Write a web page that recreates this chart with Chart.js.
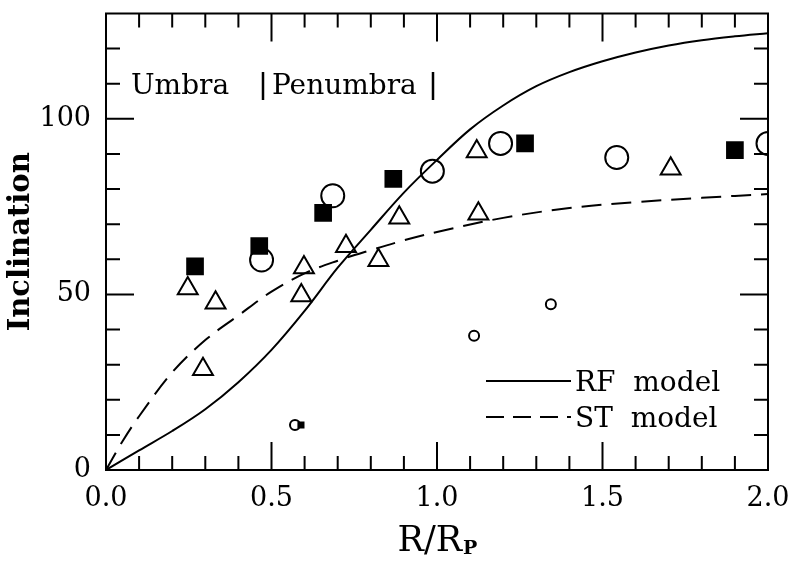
<!DOCTYPE html>
<html>
<head>
<meta charset="utf-8">
<script src="https://cdn.jsdelivr.net/npm/chart.js@4/dist/chart.umd.min.js"></script>
<style>
  html,body{margin:0;padding:0;background:#fff;}
  #wrap{width:789px;height:563px;}
</style>
</head>
<body>
<div id="wrap"><canvas id="incl"></canvas></div>
<script>
// model curves
var rfX=[0,0.1,0.2,0.3,0.4,0.5,0.6,0.7,0.8,0.9,1.0,1.1,1.2,1.3,1.4,1.5,1.6,1.7,1.8,1.9,2.0];
var rfY=[0,5.6,11.1,17.3,25.0,34.2,45.3,57.6,68.4,79.0,88.3,97.0,103.8,109.3,113.3,116.4,118.9,120.9,122.4,123.5,124.4];
var stX=[0,0.05,0.1,0.2,0.3,0.4,0.5,0.6,0.7,0.8,0.9,1.0,1.2,1.4,1.6,1.8,2.0];
var stY=[0,8.2,15.3,27.8,37,44,50.8,56,59.6,62.6,65.4,67.8,71.8,74.6,76.3,77.5,78.6];

// observations
var sqX=[0.269,0.463,0.656,0.868,1.266,1.900];
var sqY=[58.0,63.8,73.2,82.9,93.0,91.1];
var circX=[0.470,0.685,0.986,1.192,1.543,2.0];
var circY=[59.8,78.1,85.1,93.0,89.0,93.0];
var triX=[0.247,0.331,0.293,0.598,0.590,0.725,0.823,0.886,1.125,1.12,1.706];
var triY=[51.7,47.6,28.7,57.7,49.7,63.7,59.7,71.8,73.0,90.7,85.8];
var smCircX=[0.571,1.112,1.344];
var smCircY=[12.8,38.2,47.2];
var smSqX=[0.589];
var smSqY=[12.8];

var xTicks=[0,0.5,1.0,1.5,2.0];
var yTicks=[0,50,100];

function pts(xs,ys){return xs.map(function(x,i){return {x:x,y:ys[i]};});}

var serif="'DejaVu Serif', serif";

// frame + inward ticks, legend, annotations
var decor={
  id:'decor',
  afterDraw:function(chart){
    var ctx=chart.ctx, a=chart.chartArea;
    var xs=chart.scales.x, ys=chart.scales.y;
    ctx.save();
    ctx.strokeStyle='#000';
    ctx.lineWidth=2;
    ctx.strokeRect(a.left,a.top,a.right-a.left,a.bottom-a.top);
    ctx.beginPath();
    for(var i=1;i<20;i++){
      var px=xs.getPixelForValue(i/10);
      var len=(i%5==0)?28:14;
      ctx.moveTo(px,a.bottom);ctx.lineTo(px,a.bottom-len);
      ctx.moveTo(px,a.top);ctx.lineTo(px,a.top+len);
    }
    for(var j=1;j<=12;j++){
      var py=ys.getPixelForValue(j*10);
      var l2=(j%5==0)?28:14;
      ctx.moveTo(a.left,py);ctx.lineTo(a.left+l2,py);
      ctx.moveTo(a.right,py);ctx.lineTo(a.right-l2,py);
    }
    ctx.stroke();

    // legend
    ctx.fillStyle='#000';
    ctx.font='28px '+serif;
    ctx.textBaseline='alphabetic';
    ctx.textAlign='left';
    ctx.beginPath();
    ctx.moveTo(486,381);ctx.lineTo(571,381);
    ctx.stroke();
    ctx.setLineDash([18,9]);
    ctx.beginPath();
    ctx.moveTo(486,417);ctx.lineTo(571,417);
    ctx.stroke();
    ctx.setLineDash([]);
    ctx.fillText('RF  model',575,391);
    ctx.fillText('ST  model',575,427);

    // umbra / penumbra
    ctx.fillText('Umbra',131,94);
    ctx.fillText('Penumbra',272,94);
    ctx.lineWidth=2.5;
    ctx.beginPath();
    ctx.moveTo(263,72);ctx.lineTo(263,100);
    ctx.moveTo(433,72);ctx.lineTo(433,100);
    ctx.stroke();

    // x title R/Rp
    ctx.font='35px '+serif;
    var w1=ctx.measureText('R/R').width;
    ctx.font='bold 19px '+serif;
    var w2=ctx.measureText('P').width;
    var x0=(a.left+a.right)/2-(w1+w2)/2;
    ctx.font='35px '+serif;
    ctx.fillText('R/R',x0,551);
    ctx.font='bold 19px '+serif;
    ctx.fillText('P',x0+w1+1,554);
    ctx.restore();
  }
};

var chart=new Chart(document.getElementById('incl'),{
  type:'scatter',
  data:{
    datasets:[
      {label:'RF model',data:pts(rfX,rfY),showLine:true,borderColor:'#000',borderWidth:2,pointRadius:0,tension:0.35,fill:false},
      {label:'ST model',data:pts(stX,stY),showLine:true,borderColor:'#000',borderWidth:2,borderDash:[20,10],pointRadius:0,tension:0.35,fill:false},
      {label:'sq',data:pts(sqX,sqY),pointStyle:'rect',pointRadius:12.5,backgroundColor:'#000',borderColor:'#000',borderWidth:0,clip:0},
      {label:'circ',data:pts(circX,circY),pointStyle:'circle',pointRadius:11.5,backgroundColor:'rgba(0,0,0,0)',borderColor:'#000',borderWidth:2,clip:0},
      {label:'tri',data:pts(triX,triY),pointStyle:'triangle',pointRadius:11.5,backgroundColor:'rgba(0,0,0,0)',borderColor:'#000',borderWidth:2,clip:0},
      {label:'smcirc',data:pts(smCircX,smCircY),pointStyle:'circle',pointRadius:5,backgroundColor:'rgba(0,0,0,0)',borderColor:'#000',borderWidth:2},
      {label:'smsq',data:pts(smSqX,smSqY),pointStyle:'rect',pointRadius:5,backgroundColor:'#000',borderColor:'#000',borderWidth:0}
    ]
  },
  options:{
    responsive:true,
    maintainAspectRatio:false,
    animation:false,
    layout:{padding:{top:5,right:21,left:0,bottom:0}},
    plugins:{legend:{display:false},tooltip:{enabled:false}},
    scales:{
      x:{
        type:'linear',min:0,max:2,
        grid:{display:false,drawTicks:false},
        border:{display:false},
        afterBuildTicks:function(s){s.ticks=xTicks.map(function(v){return {value:v};});},
        ticks:{color:'#000',padding:13,font:{family:serif,size:27},callback:function(v){return v.toFixed(1);}},
        afterFit:function(s){s.height=93;s.paddingLeft=0;s.paddingRight=0;}
      },
      y:{
        type:'linear',min:0,max:130,
        grid:{display:false,drawTicks:false},
        border:{display:false},
        afterBuildTicks:function(s){s.ticks=yTicks.map(function(v){return {value:v};});},
        ticks:{color:'#000',padding:15,font:{family:serif,size:27}},
        title:{display:true,text:'Inclination',color:'#000',font:{family:serif,size:29,weight:'bold'},padding:{top:4}},
        afterFit:function(s){s.width=106;s.paddingTop=0;s.paddingBottom=0;}
      }
    }
  },
  plugins:[decor]
});
</script>
</body>
</html>
